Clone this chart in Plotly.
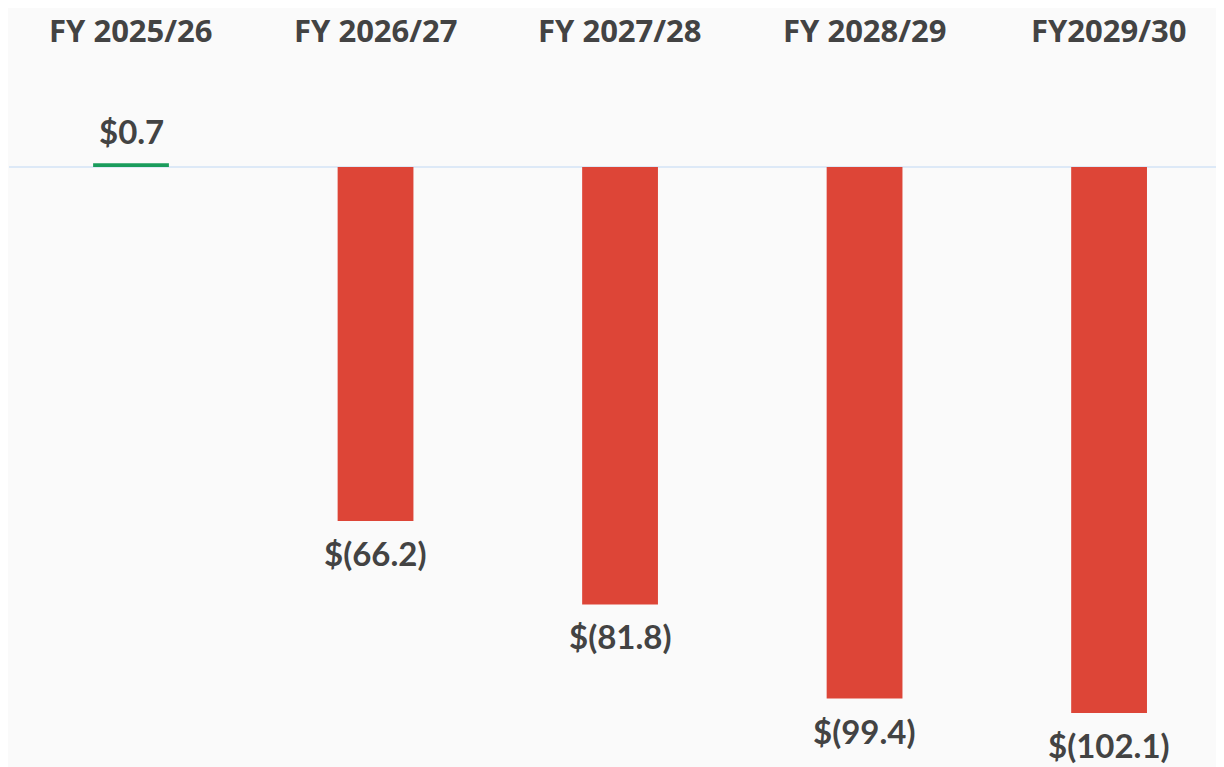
import plotly.graph_objects as go

categories = ["FY 2025/26", "FY 2026/27", "FY 2027/28", "FY 2028/29", "FY2029/30"]
values = [0.7, -66.2, -81.8, -99.4, -102.1]

POS_COLOR = "#1a9c5c"
NEG_COLOR = "#dd4537"
TEXT_COLOR = "#434343"


def fmt(v):
    return f"${v:.1f}" if v >= 0 else f"$({abs(v):.1f})"


fig = go.Figure()
fig.add_trace(go.Bar(
    x=list(range(len(categories))),
    y=values,
    width=0.31,
    marker=dict(color=[POS_COLOR if v >= 0 else NEG_COLOR for v in values], line=dict(width=0)),
    hoverinfo="skip",
))

annotations = []
for i, (c, v) in enumerate(zip(categories, values)):
    annotations.append(dict(
        x=i, y=v, xref="x", yref="y", text=f"<b>{fmt(v)}</b>", showarrow=False,
        yanchor="bottom" if v >= 0 else "top",
        yshift=10 if v >= 0 else -10,
        font=dict(family="Lato", size=33, color=TEXT_COLOR),
    ))
    annotations.append(dict(
        x=i, y=1, xref="x", yref="paper", text=f"<b>{c}</b>", showarrow=False,
        yanchor="top", yshift=0, borderpad=0,
        font=dict(family="Open Sans", size=31, color=TEXT_COLOR),
    ))

fig.update_layout(
    width=1216, height=759,
    margin=dict(l=1, r=0, t=0, b=0),
    paper_bgcolor="#fafafa", plot_bgcolor="#fafafa",
    showlegend=False,
    annotations=annotations,
    xaxis=dict(range=[-0.499, 4.47], visible=False, fixedrange=True),
    yaxis=dict(range=[-112.2, 29.74], showgrid=False, showticklabels=False,
               zeroline=True, zerolinecolor="#dde9f7", zerolinewidth=2, fixedrange=True),
)

fig.write_html("out.html")
